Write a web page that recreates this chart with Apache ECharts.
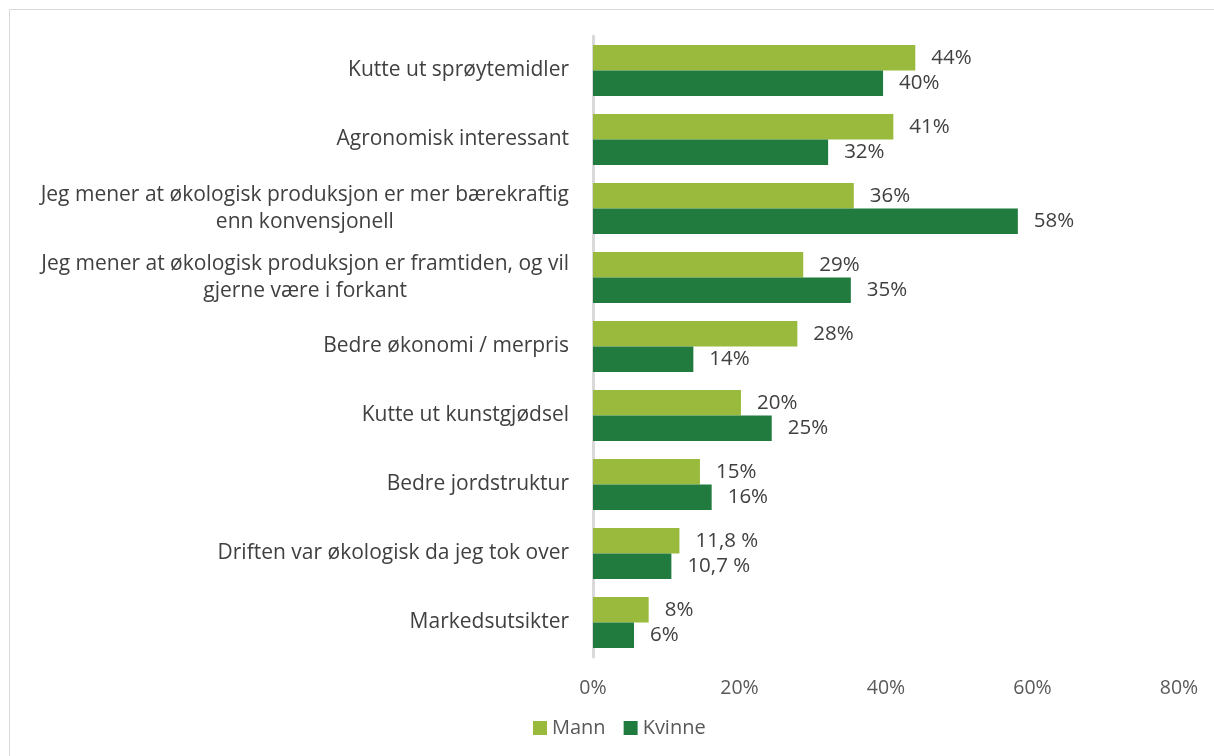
<!DOCTYPE html>
<html>
<head>
<meta charset="utf-8">
<script src="https://cdn.jsdelivr.net/npm/echarts@6/dist/echarts.min.js"></script>
<style>
  html, body { margin: 0; padding: 0; background: #fff; }
  #chart { width: 1214px; height: 756px; }
</style>
</head>
<body>
<div id="chart"></div>
<script>
// kategorier (ovenfra og ned)
const categories = [
  "Kutte ut sprøytemidler",
  "Agronomisk interessant",
  "Jeg mener at økologisk produksjon er mer bærekraftig\nenn konvensjonell",
  "Jeg mener at økologisk produksjon er framtiden, og vil\ngjerne være i forkant",
  "Bedre økonomi / merpris",
  "Kutte ut kunstgjødsel",
  "Bedre jordstruktur",
  "Driften var økologisk da jeg tok over",
  "Markedsutsikter"
];
const mannValues = [44, 41, 35.6, 28.7, 27.9, 20.2, 14.6, 11.8, 7.6];
const kvinneValues = [39.6, 32.1, 58, 35.2, 13.7, 24.4, 16.2, 10.7, 5.6];
const mannLabels = ["44%", "41%", "36%", "29%", "28%", "20%", "15%", "11,8 %", "8%"];
const kvinneLabels = ["40%", "32%", "58%", "35%", "14%", "25%", "16%", "10,7 %", "6%"];
const xTicks = [0, 20, 40, 60, 80];

const FONT = "Open Sans";
const TEXT = "#404040";

const chart = echarts.init(document.getElementById("chart"));

const option = {
  backgroundColor: "#fff",
  animation: false,
  textStyle: { fontFamily: FONT },
  graphic: [
    {
      type: "rect",
      shape: { x: 9.5, y: 9.5, width: 1300, height: 900 },
      style: { fill: "none", stroke: "#d9d9d9", lineWidth: 1 },
      silent: true
    }
  ],
  legend: {
    left: 528,
    top: 713,
    itemWidth: 14,
    itemHeight: 14,
    itemGap: 18,
    icon: "rect",
    textStyle: { fontSize: 20, color: "#595959", fontFamily: FONT, padding: [0, 0, 0, 0] },
    data: ["Mann", "Kvinne"]
  },
  grid: {
    left: 593,
    right: 35,
    top: 36,
    bottom: 99,
    containLabel: false
  },
  xAxis: {
    type: "value",
    min: xTicks[0],
    max: xTicks[xTicks.length - 1],
    interval: 20,
    axisLine: { show: false },
    axisTick: { show: false },
    splitLine: { show: false },
    axisLabel: {
      margin: 21,
      fontSize: 19.5,
      color: "#595959",
      fontFamily: FONT,
      formatter: (v) => v + "%"
    }
  },
  yAxis: {
    type: "category",
    inverse: true,
    data: categories,
    axisLine: { show: true, lineStyle: { color: "#d9d9d9", width: 3 } },
    axisTick: { show: false },
    axisLabel: {
      margin: 24,
      fontSize: 21,
      color: TEXT,
      fontFamily: FONT,
      lineHeight: 27,
      formatter: (v) => v.split("\n").map((l) => "{c|" + l + "}").join("\n"),
      rich: {
        c: { align: "center", fontSize: 21, color: TEXT, fontFamily: FONT, lineHeight: 27 }
      }
    }
  },
  series: [
    {
      name: "Mann",
      type: "bar",
      data: mannValues,
      barGap: "0%",
      barCategoryGap: "26%",
      itemStyle: { color: "#99ba3c" },
      label: {
        show: true,
        position: "right",
        distance: 16,
        fontSize: 20.5,
        color: TEXT,
        fontFamily: FONT,
        formatter: (p) => mannLabels[p.dataIndex]
      }
    },
    {
      name: "Kvinne",
      type: "bar",
      data: kvinneValues,
      barGap: "0%",
      barCategoryGap: "26%",
      itemStyle: { color: "#217b3e" },
      label: {
        show: true,
        position: "right",
        distance: 16,
        fontSize: 20.5,
        color: TEXT,
        fontFamily: FONT,
        formatter: (p) => kvinneLabels[p.dataIndex]
      }
    }
  ]
};

chart.setOption(option);
</script>
</body>
</html>
